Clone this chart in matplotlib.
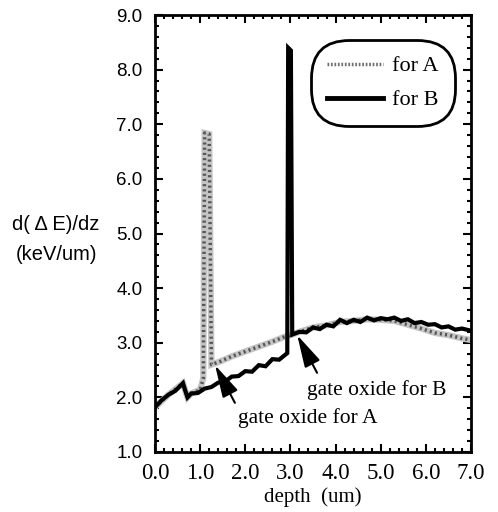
import matplotlib
matplotlib.use("Agg")
import matplotlib.pyplot as plt
from matplotlib.ticker import AutoMinorLocator
from matplotlib.lines import Line2D

# Series B (solid black)
xB = [0.0, 0.15, 0.3, 0.45, 0.62, 0.66, 0.72, 0.8, 0.95, 1.1, 1.25, 1.4, 1.55, 1.7, 1.85,
      2.0, 2.15, 2.3, 2.45, 2.6, 2.75, 2.93, 2.95, 3.01, 3.04, 3.2, 3.35, 3.5, 3.65, 3.8,
      3.95, 4.1, 4.25, 4.4, 4.55, 4.7, 4.85, 5.0, 5.15, 5.3, 5.45, 5.6, 5.75, 5.9, 6.05,
      6.2, 6.35, 6.5, 6.65, 6.8, 7.0]
yB = [1.82, 1.95, 2.05, 2.12, 2.26, 2.15, 2.0, 2.07, 2.08, 2.16, 2.19, 2.27, 2.29, 2.38, 2.39,
      2.48, 2.47, 2.59, 2.57, 2.70, 2.69, 2.81, 8.40, 8.35, 3.15, 3.20, 3.19, 3.28, 3.25, 3.33,
      3.30, 3.42, 3.36, 3.42, 3.38, 3.46, 3.41, 3.45, 3.43, 3.46, 3.40, 3.43, 3.36, 3.38, 3.33,
      3.34, 3.28, 3.30, 3.24, 3.26, 3.22]

# Series A (grey stippled)
xA = [0.0, 0.3, 0.62, 0.66, 0.72, 0.8, 1.0, 1.07, 1.1, 1.2, 1.25, 1.45, 1.7, 2.0, 2.3,
      2.6, 2.84, 3.0, 3.2, 3.5, 3.8, 4.1, 4.4, 4.7, 5.0, 5.3, 5.6, 5.9, 6.2, 6.5, 6.8, 7.0]
yA = [1.82, 2.05, 2.26, 2.15, 2.0, 2.07, 2.14, 2.35, 6.84, 6.82, 2.60, 2.66, 2.75, 2.84, 2.93,
      3.02, 3.10, 3.14, 3.20, 3.28, 3.32, 3.38, 3.40, 3.43, 3.42, 3.40, 3.33, 3.26, 3.18, 3.14, 3.08, 3.05]

xticks = [0.0, 1.0, 2.0, 3.0, 4.0, 5.0, 6.0, 7.0]
yticks = [1.0, 2.0, 3.0, 4.0, 5.0, 6.0, 7.0, 8.0, 9.0]
labels = ["for A", "for B"]

SERIF = ["Liberation Serif", "DejaVu Serif"]
SANS = ["Liberation Sans", "DejaVu Sans"]

fig = plt.figure(figsize=(4.98, 5.12), dpi=100)
ax = fig.add_axes([155/498, 1-452/512, 316/498, 437/512])

ax.plot(xA, yA, color="#c4c4c4", lw=4.5, solid_joinstyle="miter", zorder=2)
ax.plot(xA, yA, color="#555555", lw=2.5, ls=(0, (0.6, 0.9)), zorder=2.1)
ax.plot(xB, yB, color="black", lw=3, solid_joinstyle="miter", zorder=3)

ax.set_xlim(0, 7)
ax.set_ylim(1, 9)
ax.set_xticks(xticks)
ax.set_yticks(yticks)
ax.set_xticklabels([f"{v:.1f}" for v in xticks], fontfamily=SERIF, fontsize=16.5)
ax.set_yticklabels([f"{v:.1f}" for v in yticks], fontfamily=SANS, fontsize=13.5)
ax.xaxis.set_minor_locator(AutoMinorLocator(5))
ax.yaxis.set_minor_locator(AutoMinorLocator(5))
ax.tick_params(which="both", direction="in", top=True, right=True, width=1.5)
ax.tick_params(which="major", length=6)
ax.tick_params(axis="x", which="major", pad=8)
ax.tick_params(axis="y", which="major", pad=9)
ax.tick_params(which="minor", length=3)
for s in ax.spines.values():
    s.set_linewidth(2)

ax.set_xlabel("depth  (um)", fontfamily=SERIF, fontsize=15, labelpad=2)
fig.text(56/498, 1-225/512, "d( \u0394 E)/dz", fontfamily=SANS, fontsize=14.5, ha="center", va="center")
fig.text(56/498, 1-255/512, "(keV/um)", fontfamily=SANS, fontsize=14.5, ha="center", va="center")

hA = Line2D([], [], color="#707070", lw=2.5, ls=(0, (0.5, 0.5)))
hB = Line2D([], [], color="black", lw=3.5)
leg = ax.legend([hA, hB], labels, loc="upper right",
                bbox_to_anchor=(0.949, 0.943), borderaxespad=0,
                prop={"family": SERIF, "size": 16},
                handlelength=2.55, handletextpad=0.4, labelspacing=0.6,
                borderpad=0.72, frameon=True, fancybox=True)
fr = leg.get_frame()
fr.set_edgecolor("black")
fr.set_linewidth(2)
fr.set_alpha(None)
fr.set_facecolor("white")
fr.set_boxstyle("round", pad=0, rounding_size=1.7)

ap = dict(arrowstyle="-|>,head_length=1.0,head_width=0.26", color="black", lw=1.5,
          mutation_scale=20, shrinkA=0, shrinkB=0)
ax.annotate("", xy=(3.15, 3.14), xytext=(3.59, 2.45), arrowprops=ap, zorder=4)
ax.annotate("", xy=(1.33, 2.59), xytext=(1.77, 1.90), arrowprops=ap, zorder=4)
ax.text(4.90, 2.135, "gate oxide for B", fontfamily=SERIF, fontsize=15.5, ha="center", va="center")
ax.text(3.39, 1.62, "gate oxide for A", fontfamily=SERIF, fontsize=15.5, ha="center", va="center")

fig.savefig("out.png", dpi=100)
